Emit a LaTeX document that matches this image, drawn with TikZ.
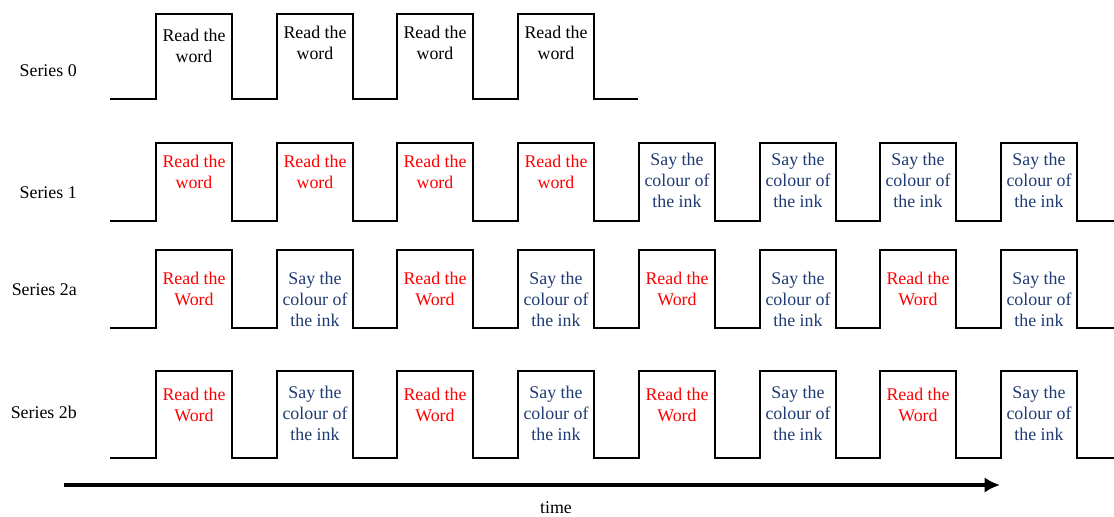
\documentclass[tikz,border=0pt]{standalone}
\usepackage{fontspec}
\setmainfont{Liberation Serif}
\usepackage{tikz}
\usetikzlibrary{arrows.meta}
\definecolor{inkblue}{HTML}{1F3B73}
\tikzset{
  >={Latex[length=11pt,width=11pt]},
}
\tikzstyle{wave}=[line width=1.4pt]
\tikzstyle{vector}=[line width=2.2pt,->]
\tikzstyle{every node}=[font=\fontsize{12.7}{15}\selectfont]
\tikzstyle{serlab}=[anchor=east,inner sep=0pt]
\tikzstyle{pulse}=[anchor=north,align=center,inner sep=0pt]
\tikzstyle{readw}=[pulse,red]
\tikzstyle{sayc}=[pulse,inkblue]

\begin{document}
\begin{tikzpicture}[x=0.025cm,y=-0.025cm]
    \useasboundingbox (0,0) rectangle (1114,517);
    % series labels
    \node[serlab] (lab0) at (77,71) {Series 0};
    \node[serlab] (lab1) at (77,193) {Series 1};
    \node[serlab] (lab2a) at (77,290) {Series 2a};
    \node[serlab] (lab2b) at (77,412) {Series 2b};
    % series 0
    \draw[wave] (110,99) foreach \r in {156,277,397,518}
      {-- (\r,99) -- (\r,14) -- (\r+76,14) -- (\r+76,99)} -- (638,99);
    \node[pulse] (s0p1) at (194,29) {Read the\\word};
    \foreach \r [count=\i from 2] in {277,397,518}
      \node[pulse] (s0p\i) at (\r+38,26) {Read the\\word};
    % series 1
    \draw[wave] (110,221) foreach \r in {156,277,397,518,639,760,880,1001}
      {-- (\r,221) -- (\r,143) -- (\r+76,143) -- (\r+76,221)} -- (1114,221);
    \foreach \r [count=\i] in {156,277,397,518}
      \node[readw] (s1p\i) at (\r+38,155) {Read the\\word};
    \foreach \r [count=\i from 5] in {639,760,880,1001}
      \node[sayc] (s1p\i) at (\r+38,153) {Say the\\colour of\\the ink};
    % series 2a
    \draw[wave] (110,328) foreach \r in {156,277,397,518,639,760,880,1001}
      {-- (\r,328) -- (\r,250) -- (\r+76,250) -- (\r+76,328)} -- (1114,328);
    \foreach \r [count=\i from 1] in {156,397,639,880}
      \node[readw] (s2ar\i) at (\r+38,272) {Read the\\Word};
    \foreach \r [count=\i from 1] in {277,518,760,1001}
      \node[sayc] (s2as\i) at (\r+38,272) {Say the\\colour of\\the ink};
    % series 2b
    \draw[wave] (110,458) foreach \r in {156,277,397,518,639,760,880,1001}
      {-- (\r,458) -- (\r,371) -- (\r+76,371) -- (\r+76,458)} -- (1114,458);
    \foreach \r [count=\i from 1] in {156,397,639,880}
      \node[readw] (s2br\i) at (\r+38,388) {Read the\\Word};
    \foreach \r [count=\i from 1] in {277,518,760,1001}
      \node[sayc] (s2bs\i) at (\r+38,386) {Say the\\colour of\\the ink};
    % time axis
    \coordinate (t0) at (64,485);
    \coordinate (t1) at (1000,485);
    \draw[vector] (t0)--(t1);
    \node (time) at (556,508) {time};
  \end{tikzpicture}
\end{document}
